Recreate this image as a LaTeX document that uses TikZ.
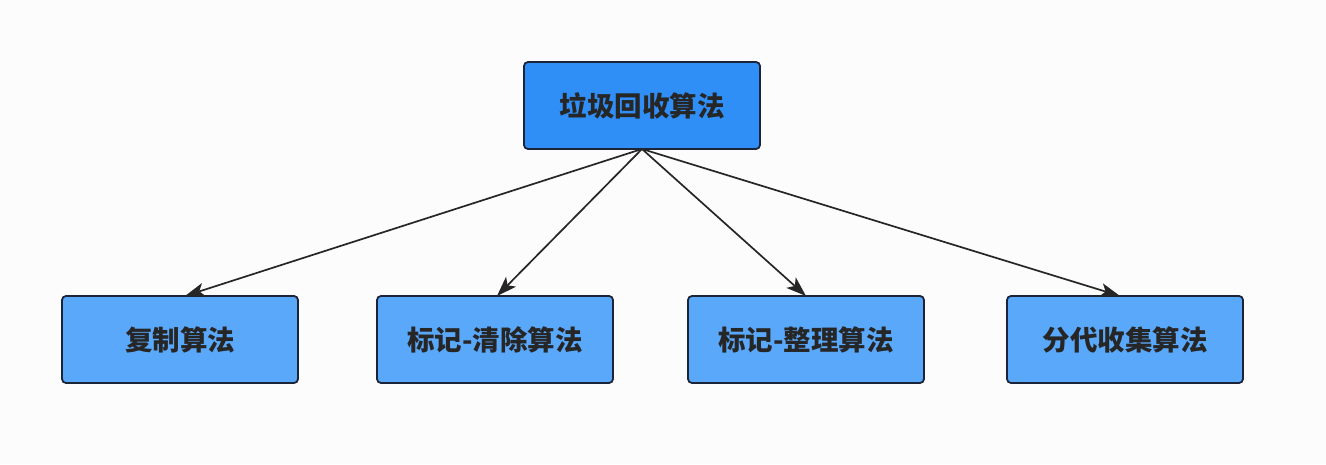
\documentclass[tikz,border=0pt]{standalone}
\usepackage{fontspec}
\newfontfamily\cjk{Noto Sans CJK SC}
\usetikzlibrary{positioning,arrows.meta}
\definecolor{rootblue}{HTML}{2F8FF7}
\definecolor{leafblue}{HTML}{5AA8FA}
\definecolor{edgenavy}{HTML}{1C2438}
\definecolor{bgwhite}{HTML}{FCFCFD}
\begin{document}
\begin{tikzpicture}
   [x=1pt,y=1pt,
    algo/.style={rectangle,draw=edgenavy,line width=1.8pt,rounded corners=4pt,
     minimum width=236pt,minimum height=87pt,inner sep=0pt,outer sep=0pt,
     font=\cjk\bfseries\fontsize{27.5}{32}\selectfont,text=black!85},
    root/.style={algo,fill=rootblue},
    leaf/.style={algo,fill=leafblue},
    link/.style={-{Stealth[length=20pt,width=14pt,inset=5pt]},line width=1.7pt,draw=black!85}]

\fill [bgwhite] (0,0) rectangle (1326,464);
\node [root] (gc) at (642,358.5) {垃圾回收算法};
\node [leaf] (copy) at (180,124.5) {复制算法};
\node [leaf,right=79pt of copy] (sweep) {标记-清除算法};
\node [leaf,right=75pt of sweep] (compact) {标记-整理算法};
\node [leaf,right=83pt of compact] (gen) {分代收集算法};
\draw [link] (gc.south) -- ([xshift=5pt]copy.north);
\draw [link] (gc.south) -- ([xshift=2pt]sweep.north);
\draw [link] (gc.south) -- (compact.north);
\draw [link] (gc.south) -- ([xshift=-5pt]gen.north);
\end{tikzpicture}
\end{document}
